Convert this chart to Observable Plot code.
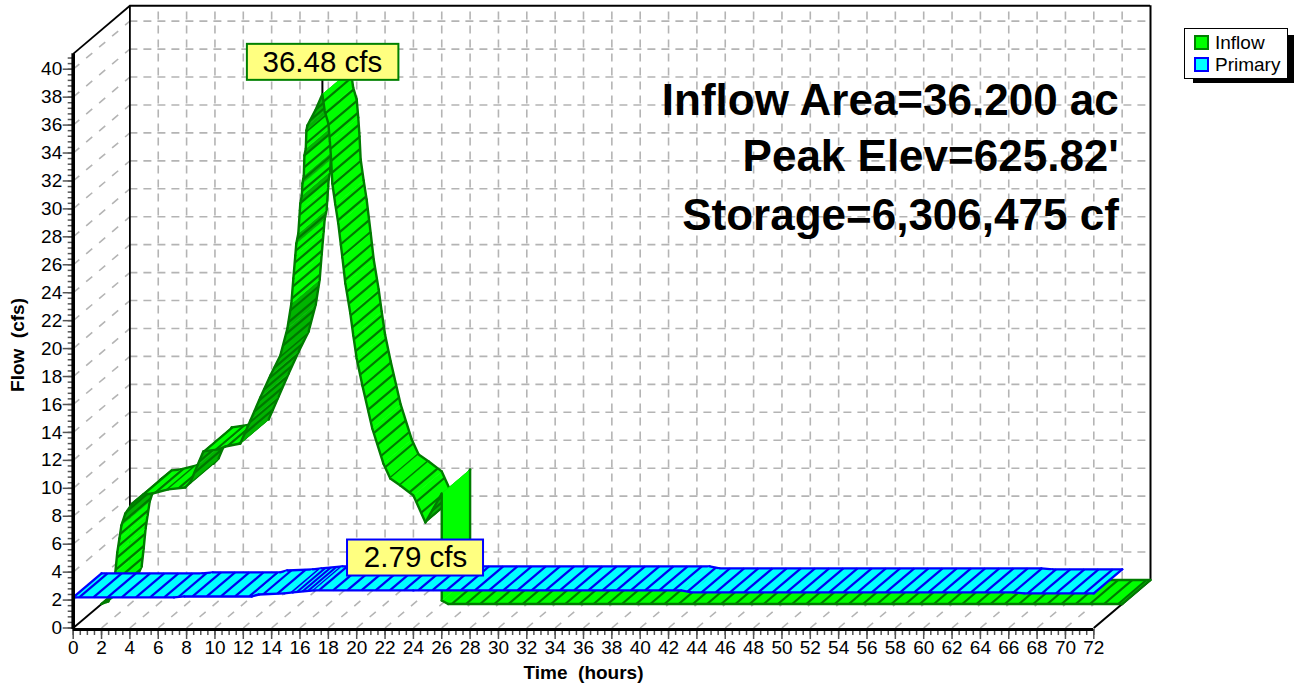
<!DOCTYPE html>
<html><head><meta charset="utf-8">
<script src="https://cdn.jsdelivr.net/npm/d3@7"></script>
<script src="https://cdn.jsdelivr.net/npm/@observablehq/plot@0.6"></script>
<style>
html,body{margin:0;padding:0;background:#fff;font-family:"Liberation Sans",Arial,sans-serif}
#wrap{position:relative;width:1294px;height:686px;overflow:hidden}
#shadow{position:absolute;left:1193px;top:35px;width:101px;height:48px;background:#000}
#legend{position:absolute;left:1184px;top:28px;width:102px;height:49px;background:#fff;border:1px solid #000;font-size:19px;line-height:22px;color:#000}
#legend div{position:absolute;left:9px;white-space:nowrap}
#legend i{display:inline-block;width:11px;height:11px;border:2px solid;margin-right:6px;vertical-align:-1px}
</style></head><body>
<div id="wrap"><div id="shadow"></div><div id="legend">
<div style="top:3px"><i style="background:#00ff00;border-color:#008000"></i>Inflow</div>
<div style="top:25px"><i style="background:#00ffff;border-color:#0000ff"></i>Primary</div>
</div></div>
<script>
const inflowT=[0,0.48,0.83,0.97,1.11,1.26,1.4,1.68,2.17,2.95,3.58,4.71,5.91,6.26,6.76,7.18,8.24,8.73,9.79,10.5,11.2,11.91,12.61,13.11,13.39,13.53,13.67,13.74,13.88,13.99,14.02,14.13,14.17,14.27,14.31,14.41,14.45,14.52,15.08,15.58,15.75,16.0,16.11,16.2,16.28,16.49,16.7,16.99,17.2,17.55,17.76,18.0,18.4,19.1,19.88,20.37,21.08,22,22.85,24,24,24.45,72];
const inflowV=[0,0.18,0.97,2.25,3.69,4.69,5.62,6.48,7.19,7.84,7.91,8.2,8.34,8.7,9.91,10.92,11.07,11.27,11.49,13.14,14.78,16.36,17.79,19.72,21.51,23.3,24.95,25.81,26.52,28.17,28.67,29.24,30.1,30.67,32.1,32.6,33.89,34.25,35.33,36.48,35.25,34.4,33.1,31.75,30.1,28.6,27.24,24.8,22.94,20.8,19.22,17.57,15.64,12.56,10.06,8.98,8.48,7.77,5.84,7.9,0.25,0,0];
const primaryT=[0,7.1,7.85,12.6,13.1,14.9,15.5,17,24,42.9,43.6,66.3,67.1,72];
const primaryV=[2.29,2.29,2.36,2.36,2.5,2.58,2.65,2.79,2.79,2.79,2.65,2.65,2.58,2.58];
const flowTicks=d3.range(0,41,2), timeTicks=d3.range(0,73,2);
const flowMinor=d3.range(0,41,0.4), timeMinor=d3.range(0,72.1,0.5);
const peakLabels=[{t:15.58,v:36.48,text:"36.48 cfs"},{t:24.15,v:2.79,text:"2.79 cfs"}];
const statLines=["Inflow Area=36.200 ac","Peak Elev=625.82'","Storage=6,306,475 cf"];

// oblique depth of the 3-D box, expressed in axis units
const DX=4, DY=3.44, TOP=41.1;
const SX=14.175, SY=13.97;  // pixels per axis unit, for hatch spacing and facet shading only

function ribbon(T,V,d0,d1,off,opt){
  const out=[]; let next=opt.phase||0, acc=0;
  const p=(i,d)=>({x:T[i]+d*DX,y:V[i]+d*DY+off});
  for(let i=0;i<T.length-1;i++){
    const a=(T[i+1]-T[i])*SX, b=(V[i+1]-V[i])*SY, len=Math.hypot(a,b);
    // a facet is shaded when it rises steeper than the depth direction, short of near-vertical
    const dark=opt.fold && a*24-b*28.25<0 && b<6.4*a;
    const f0=p(i,d0),f1=p(i+1,d0),b0=p(i,d1),b1=p(i+1,d1);
    const hatch=[];
    const noHatch=a===0;
    while(next<=acc+len){
      const u=len?(next-acc)/len:0;
      if(!noHatch)hatch.push({x1:f0.x+u*(f1.x-f0.x),y1:f0.y+u*(f1.y-f0.y),x2:b0.x+u*(b1.x-b0.x),y2:b0.y+u*(b1.y-b0.y)});
      const t=T[i]+u*(T[i+1]-T[i]);
      next+=(t>=opt.denseFrom&&t<opt.denseTo)?opt.dense:opt.step;
    }
    acc+=len;
    const edges=[{x1:f0.x,y1:f0.y,x2:f1.x,y2:f1.y},{x1:b0.x,y1:b0.y,x2:b1.x,y2:b1.y}];
    if(i===0)edges.push({x1:f0.x,y1:f0.y,x2:b0.x,y2:b0.y});
    if(i===T.length-2)edges.push({x1:f1.x,y1:f1.y,x2:b1.x,y2:b1.y});
    const col=dark?opt.dark:opt.fill;
    out.push(
      Plot.line([f0,f1,b1,b0,f0],{x:"x",y:"y",fill:col,stroke:col,strokeWidth:0.6}),
      Plot.link(hatch,{x1:"x1",y1:"y1",x2:"x2",y2:"y2",stroke:opt.hatch,strokeWidth:2.2}),
      Plot.link(edges,{x1:"x1",y1:"y1",x2:"x2",y2:"y2",stroke:opt.edge,strokeWidth:2.4,strokeLinecap:"round"})
    );
  }
  return out;
}

const grid={stroke:"#b4b4b4",strokeWidth:1.6,strokeDasharray:"8 6"};
const gridXs=timeTicks.filter(d=>d>0&&d<72), gridYs=flowTicks.filter(d=>d>0);
const chart=Plot.plot({
  width:1294,height:686,
  marginLeft:72.7,marginRight:200.7,marginTop:0,marginBottom:57,
  x:{domain:[0,72],range:[72.7,1093.3]},
  y:{domain:[0,40],range:[627.5,68.7]},
  style:{fontFamily:'"Liberation Sans",Arial,sans-serif',fontSize:"18px",background:"transparent",color:"#000",overflow:"visible"},
  marks:[
    // back wall
    Plot.ruleX(gridXs,{x:d=>d+DX,y1:DY,y2:TOP+DY,...grid}),
    Plot.ruleY(gridYs,{y:d=>d+DY,x1:DX,x2:72+DX,...grid}),
    // floor and side wall
    Plot.link(timeTicks.filter(d=>d>0),{x1:d=>d,y1:0,x2:d=>d+DX,y2:DY,...grid,strokeDasharray:"8 9"}),
    Plot.link(gridYs,{x1:0,y1:d=>d,x2:DX,y2:d=>d+DY,...grid,strokeDasharray:"8 9"}),
    // box outline
    Plot.ruleX([DX],{y1:DY,y2:TOP+DY,stroke:"#000",strokeWidth:1.8}),
    Plot.ruleX([72+DX],{y1:DY,y2:TOP+DY,stroke:"#000",strokeWidth:2}),
    Plot.ruleY([TOP+DY],{x1:DX,x2:72+DX,stroke:"#000",strokeWidth:2}),
    Plot.link([0],{x1:0,y1:TOP,x2:DX,y2:TOP+DY,stroke:"#000",strokeWidth:1.8}),
    Plot.link([0],{x1:0,y1:0,x2:DX,y2:DY,stroke:"#000",strokeWidth:1.8}),
    Plot.link([0],{x1:72,y1:0,x2:72+DX,y2:DY,stroke:"#000",strokeWidth:2}),
    // peak leader lines
    Plot.ruleX([peakLabels[0]],{x:d=>d.t+DX/2,y1:d=>d.v+DY/2,y2:d=>d.v+DY/2+2,stroke:"#000",strokeWidth:2}),
    // Inflow ribbon
    ...ribbon(inflowT,inflowV,0.5,1,0,{fold:true,fill:"#00ff00",dark:"#00b400",edge:"#007c00",hatch:"#007800",step:14.18,phase:4,denseFrom:0,denseTo:24,dense:12}),
    // Primary ribbon
    Plot.ruleX([peakLabels[1]],{x:"t",y1:d=>d.v-0.1,y2:d=>d.v+2,stroke:"#000",strokeWidth:2}),
    ...ribbon(primaryT,primaryV,0,0.5,-0.1,{fold:false,fill:"#00ffff",edge:"#0000ff",hatch:"#0000f0",step:14.18,phase:6,denseFrom:15,denseTo:17.2,dense:5.5}),
    // annotation boxes
    Plot.rect([peakLabels[0]],{x1:d=>d.t+DX/2,x2:d=>d.t+DX/2,y1:d=>d.v+DY/2,y2:d=>d.v+DY/2,insetLeft:-75,insetRight:-76.5,insetTop:-50,insetBottom:14,fill:"#ffff80",stroke:"#008000",strokeWidth:2}),
    Plot.text([peakLabels[0]],{x:d=>d.t+DX/2,y:d=>d.v+DY/2,text:"text",dy:-32,fontSize:29.5,fill:"#000"}),
    Plot.rect([peakLabels[1]],{x1:"t",x2:"t",y1:"v",y2:"v",insetLeft:-68,insetRight:-68,insetTop:-49,insetBottom:13,fill:"#ffff80",stroke:"#0000ff",strokeWidth:2}),
    Plot.text([peakLabels[1]],{x:"t",y:"v",text:"text",dy:-31,fontSize:29.5,fill:"#000"}),
    // front axes
    Plot.axisX(timeMinor,{anchor:"bottom",tickSize:6,tickFormat:()=>"",stroke:"#555",strokeWidth:1.5,label:null}),
    Plot.axisX(timeTicks,{anchor:"bottom",tickSize:10,tickPadding:1,tickFormat:d=>d,fontSize:19,stroke:"#555",strokeWidth:1.5,label:null}),
    Plot.axisY(flowMinor,{anchor:"left",tickSize:5,tickFormat:()=>"",stroke:"#555",strokeWidth:1.5,label:null}),
    Plot.axisY(flowTicks,{anchor:"left",tickSize:10,tickPadding:1,tickFormat:d=>d,fontSize:19,stroke:"#555",strokeWidth:1.5,label:null}),
    Plot.ruleX([0],{y1:-0.1,y2:TOP,stroke:"#000",strokeWidth:3.6}),
    Plot.ruleY([0],{x1:0,x2:72,dy:1.5,stroke:"#000",strokeWidth:3.2}),
    // statistics
    Plot.text([statLines[0]],{frameAnchor:"top-right",lineAnchor:"bottom",dx:25,dy:114,text:d=>d,fontSize:44,fontWeight:"bold",fill:"#000"}),
    Plot.text([statLines[1]],{frameAnchor:"top-right",lineAnchor:"bottom",dx:25,dy:170,text:d=>d,fontSize:44,fontWeight:"bold",fill:"#000"}),
    Plot.text([statLines[2]],{frameAnchor:"top-right",lineAnchor:"bottom",dx:25,dy:229,text:d=>d,fontSize:44,fontWeight:"bold",fill:"#000"}),
    // axis titles
    Plot.text(["Time  (hours)"],{frameAnchor:"bottom",lineAnchor:"middle",dy:43,text:d=>d,fontSize:19,fontWeight:"bold",fill:"#000"}),
    Plot.text(["Flow  (cfs)"],{frameAnchor:"left",rotate:-90,lineAnchor:"middle",textAnchor:"middle",dx:-55,dy:30,text:d=>d,fontSize:19,fontWeight:"bold",fill:"#000"})
  ]
});
chart.style.position="absolute";chart.style.left="0";chart.style.top="0";
document.getElementById("wrap").prepend(chart);
</script>
</body></html>
